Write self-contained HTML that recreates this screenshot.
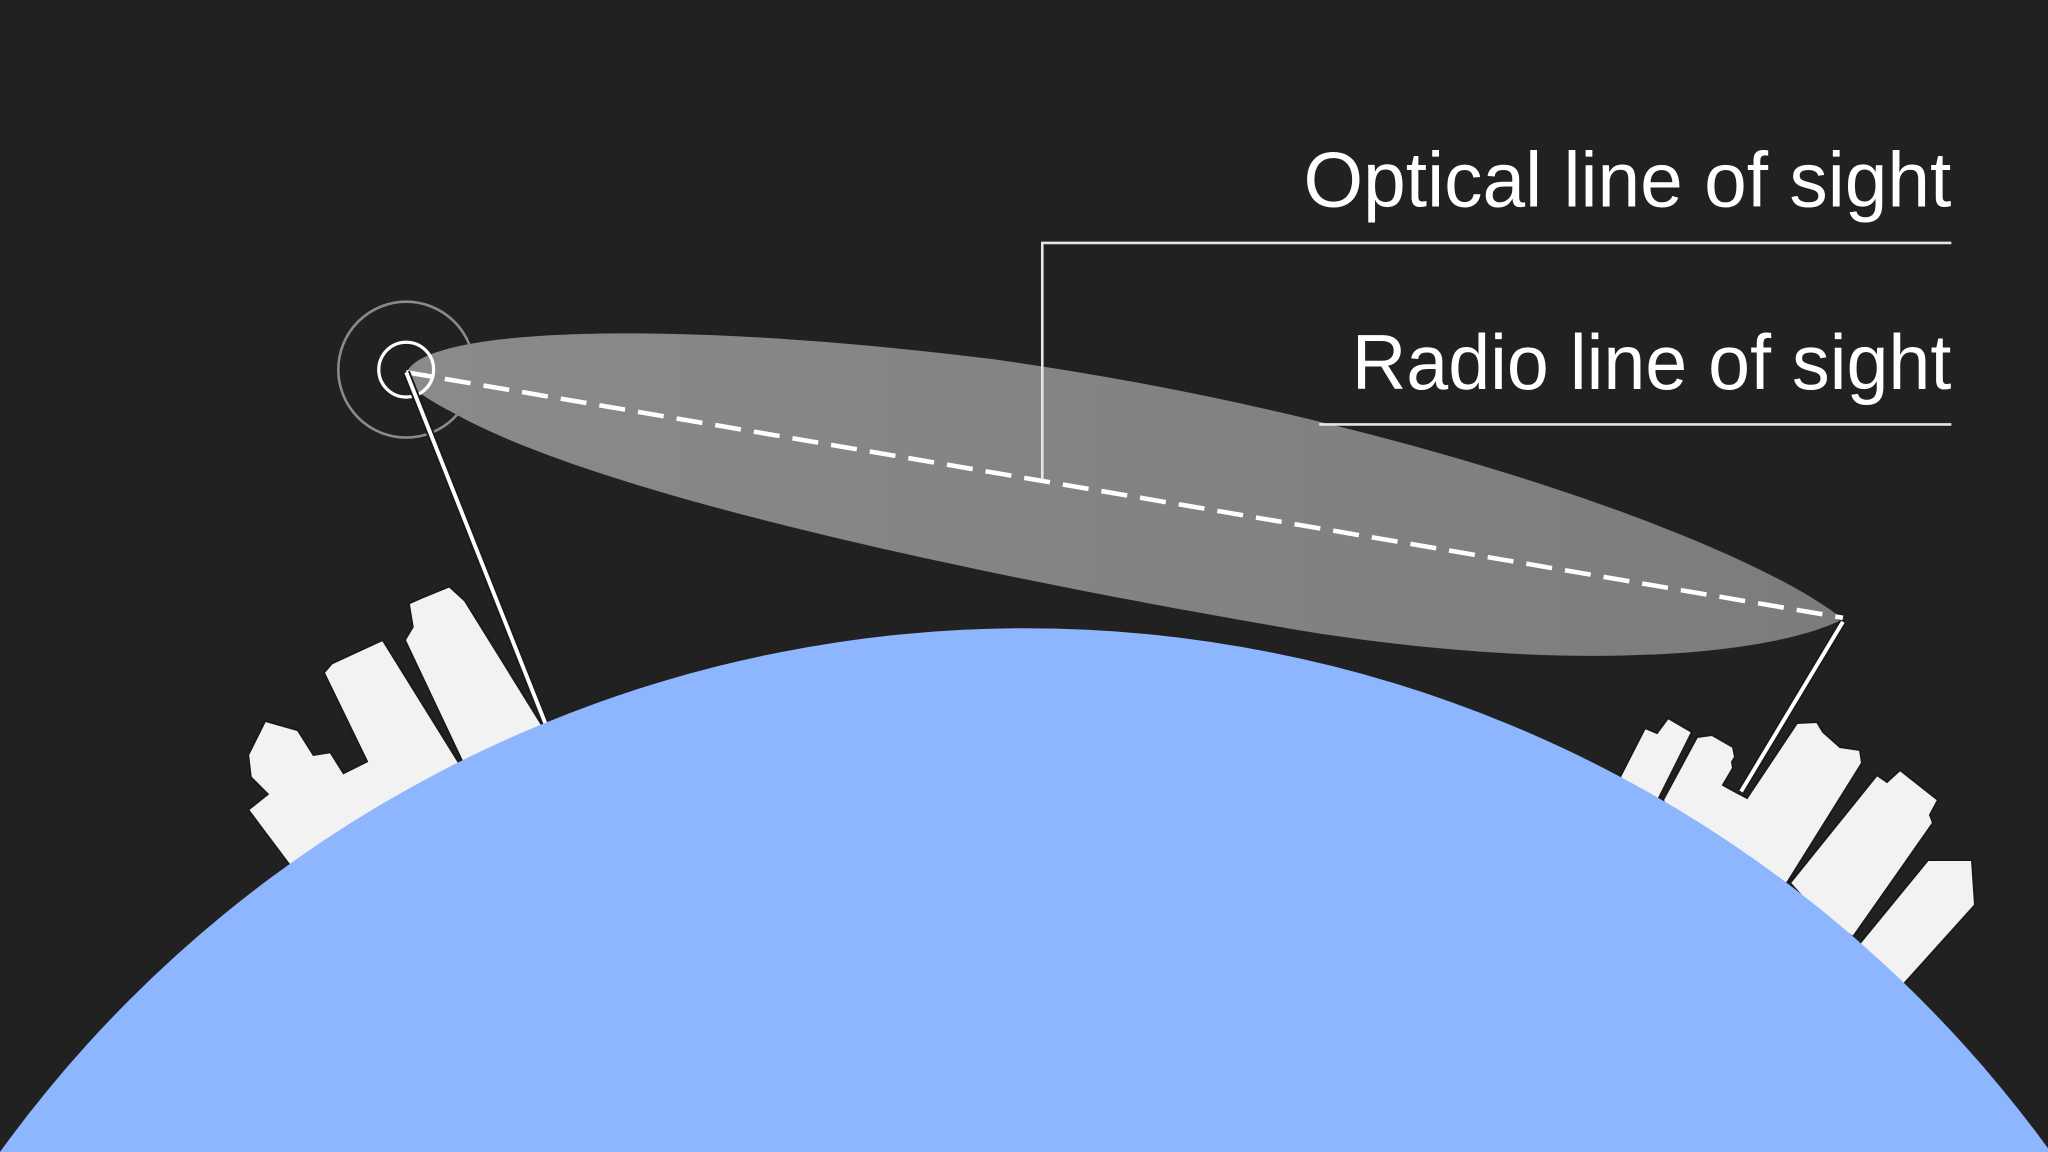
<!DOCTYPE html>
<html><head><meta charset="utf-8"><style>
html,body{margin:0;padding:0;background:#212121;width:2048px;height:1152px;overflow:hidden;}
svg{display:block;}
</style></head><body>
<svg width="2048" height="1152" viewBox="0 0 1568 882" xmlns="http://www.w3.org/2000/svg">
<rect width="1568" height="882" fill="#212121"/>
<defs>
<linearGradient id="g" x1="0" y1="0" x2="1" y2="0">
<stop offset="0" stop-color="#8a8a8a"/><stop offset="1" stop-color="#7c7c7c"/>
</linearGradient>
</defs>
<!-- radio lobe -->
<path d="M312,284 C330,250 520,245 760,275 C1050,315 1330,410 1411,474 C1350,505 1180,515 980,480 C720,435 450,375 345,315 C320,302 308,292 312,284 Z" fill="url(#g)"/>
<!-- dashed line -->
<line x1="311" y1="285" x2="1411" y2="473" stroke="#fff" stroke-width="3.5" stroke-dasharray="20 10"/>
<!-- antenna circles -->
<circle cx="311" cy="283" r="52" fill="none" stroke="#8a8a8a" stroke-width="2"/>
<circle cx="311" cy="283" r="21" fill="none" stroke="#fff" stroke-width="2.5"/>
<!-- left buildings -->
<g fill="#f2f2f2" stroke="#1a1a1a" stroke-width="1.5">
<polygon points="190,578 203,552 228,559 240,578 253,576 263,592 281,583 248,515 254,508 293,490 352,585 235,680 190,620 205,608 192,595"/>
<polygon points="310,490 316,480 313,462 322,458 344,449 356,460 418,560 362,600"/>
</g>
<!-- left pole -->
<line x1="311" y1="285" x2="418" y2="555" stroke="#1a1a1a" stroke-width="6"/>
<line x1="311" y1="285" x2="418" y2="555" stroke="#fff" stroke-width="3"/>
<!-- right buildings (2048 coords) -->
<g transform="scale(0.765625)" fill="#f2f2f2" stroke="#1a1a1a" stroke-width="2">
<polygon points="1620,777 1645,728 1657,733 1668,718 1692,732 1658,800 1630,800"/>
<polygon points="1663,800 1697,737 1712,735 1733,747 1735,757 1732,762 1733,768 1723,785 1732,790 1747,798 1797,723 1817,722 1823,732 1840,747 1860,750 1862,763 1787,883 1700,880"/>
<polygon points="1790,883 1877,775 1887,782 1900,770 1938,800 1930,815 1933,823 1853,937 1817,913"/>
<polygon points="1860,943 1928,860 1972,860 1975,905 1903,985 1867,980"/>
</g>
<!-- right pole -->
<line x1="1411" y1="476" x2="1333" y2="606" stroke="#1a1a1a" stroke-width="6"/>
<line x1="1411" y1="476" x2="1333" y2="606" stroke="#fff" stroke-width="3"/>
<!-- earth -->
<circle cx="785" cy="1450" r="969" fill="#8db6ff"/>
<!-- labels -->
<polyline points="798,367 798,186 1494,186" fill="none" stroke="#e6e6e6" stroke-width="2"/>
<line x1="1010" y1="325" x2="1494" y2="325" stroke="#e6e6e6" stroke-width="2"/>
<text x="998" y="158" font-family="Liberation Sans, sans-serif" font-size="60" fill="#fff" textLength="496" lengthAdjust="spacingAndGlyphs">Optical line of sight</text>
<text x="1035" y="298" font-family="Liberation Sans, sans-serif" font-size="60" fill="#fff" textLength="459" lengthAdjust="spacingAndGlyphs">Radio line of sight</text>
</svg>
</body></html>
